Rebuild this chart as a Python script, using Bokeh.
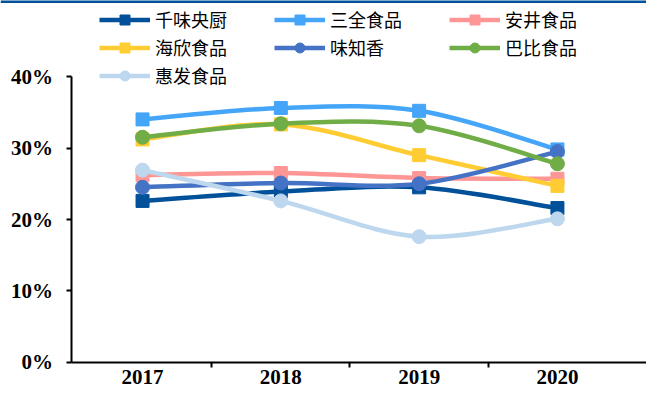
from bokeh.plotting import figure
from bokeh.models import FixedTicker, Legend, LegendItem, Range1d, Span
from bokeh.embed import file_html
from bokeh.resources import INLINE

years = ["2017", "2018", "2019", "2020"]
qianwei = [22.6, 23.9, 24.5, 21.6]
sanquan = [34.0, 35.6, 35.2, 29.8]
anjing = [26.2, 26.5, 25.8, 25.7]
haixin = [31.2, 33.3, 29.0, 24.7]
weizhixiang = [24.5, 25.1, 25.0, 29.5]
babi = [31.5, 33.4, 33.1, 27.8]
huifa = [26.9, 22.6, 17.6, 20.1]
y_ticks = [0, 10, 20, 30, 40]
y_tick_labels = ["0%", "10%", "20%", "30%", "40%"]

series = [
    ("千味央厨", qianwei, "#00509A", "square"),
    ("三全食品", sanquan, "#45A5F8", "square"),
    ("安井食品", anjing, "#FF9696", "square"),
    ("海欣食品", haixin, "#FFCD33", "square"),
    ("味知香", weizhixiang, "#4472C4", "circle"),
    ("巴比食品", babi, "#70AD47", "circle"),
    ("惠发食品", huifa, "#BDD7EE", "circle"),
]

xs = list(range(len(years)))
y_lo, y_top = -4.336, 50.63   # room below 0% for year labels, above 40% for legend
x_lo, x_hi = -1.027, 3.644
y_axis_x = -0.517


def smooth(xv, yv):
    """Catmull-Rom style smoothing (like Excel's smoothed line) as cubic beziers."""
    n = len(xv)
    out = dict(x0=[], y0=[], x1=[], y1=[], cx0=[], cy0=[], cx1=[], cy1=[])
    for i in range(n - 1):
        a = max(i - 1, 0)
        d = min(i + 2, n - 1)
        out["x0"].append(xv[i]); out["y0"].append(yv[i])
        out["x1"].append(xv[i + 1]); out["y1"].append(yv[i + 1])
        out["cx0"].append(xv[i] + (xv[i + 1] - xv[a]) / 6)
        out["cy0"].append(yv[i] + (yv[i + 1] - yv[a]) / 6)
        out["cx1"].append(xv[i + 1] - (xv[d] - xv[i]) / 6)
        out["cy1"].append(yv[i + 1] - (yv[d] - yv[i]) / 6)
    return out


p = figure(width=646, height=393, output_backend="svg", toolbar_location=None,
           x_range=Range1d(x_lo, x_hi), y_range=Range1d(y_lo, y_top),
           min_border_left=0, min_border_right=0, min_border_top=0,
           min_border_bottom=0)
p.outline_line_color = None
p.grid.visible = False
p.background_fill_color = "white"

items = []
for name, vals, color, marker in series:
    seg = smooth(xs, vals)
    r1 = p.bezier(x0=seg["x0"], y0=seg["y0"], x1=seg["x1"], y1=seg["y1"],
                  cx0=seg["cx0"], cy0=seg["cy0"], cx1=seg["cx1"], cy1=seg["cy1"],
                  line_color=color, line_width=4.5)
    sz = 13 if marker == "square" else 14
    r2 = p.scatter(xs, vals, marker=marker, size=sz, fill_color=color, line_color=color)
    items.append(LegendItem(label=name, renderers=[r1, r2]))

p.add_layout(Span(location=y_top, dimension="width", line_color="#00509A", line_width=5))

p.xaxis.fixed_location = 0
p.xaxis.ticker = FixedTicker(ticks=xs, minor_ticks=[0.5, 1.5, 2.5])
p.xaxis.bounds = (y_axis_x, x_hi)
p.xaxis.major_label_overrides = {i: y for i, y in enumerate(years)}
p.xaxis.major_tick_line_color = None
p.xaxis.major_tick_out = 0
p.xaxis.major_tick_in = 0
p.xaxis.minor_tick_line_color = "black"
p.xaxis.minor_tick_line_width = 2
p.xaxis.minor_tick_in = 0
p.xaxis.minor_tick_out = 5
p.xaxis.axis_line_width = 2
p.xaxis.axis_line_color = "black"
p.xaxis.major_label_standoff = 3

p.yaxis.fixed_location = y_axis_x
p.yaxis.ticker = FixedTicker(ticks=y_ticks)
p.yaxis.bounds = (0, 40)
p.yaxis.major_label_overrides = {t: l for t, l in zip(y_ticks, y_tick_labels)}
p.yaxis.minor_tick_line_color = None
p.yaxis.major_tick_in = 0
p.yaxis.major_tick_out = 5
p.yaxis.major_tick_line_width = 2
p.yaxis.axis_line_width = 2
p.yaxis.axis_line_color = "black"
p.yaxis.major_label_standoff = 13

for ax in (p.xaxis, p.yaxis):
    ax.major_label_text_font = "Liberation Serif"
    ax.major_label_text_font_style = "bold"
    ax.major_label_text_font_size = "21px"
    ax.major_label_text_color = "black"

legend = Legend(items=items, orientation="horizontal", ncols=3, location=(99, 305),
                glyph_width=51, glyph_height=25, label_height=25,
                label_standoff=5, label_width=117, spacing=2, padding=0,
                border_line_color=None, background_fill_alpha=0,
                label_text_font="Noto Sans CJK SC", label_text_font_size="18px",
                label_text_color="black")
p.add_layout(legend, "center")

open("out.html", "w").write(file_html(p, INLINE))
